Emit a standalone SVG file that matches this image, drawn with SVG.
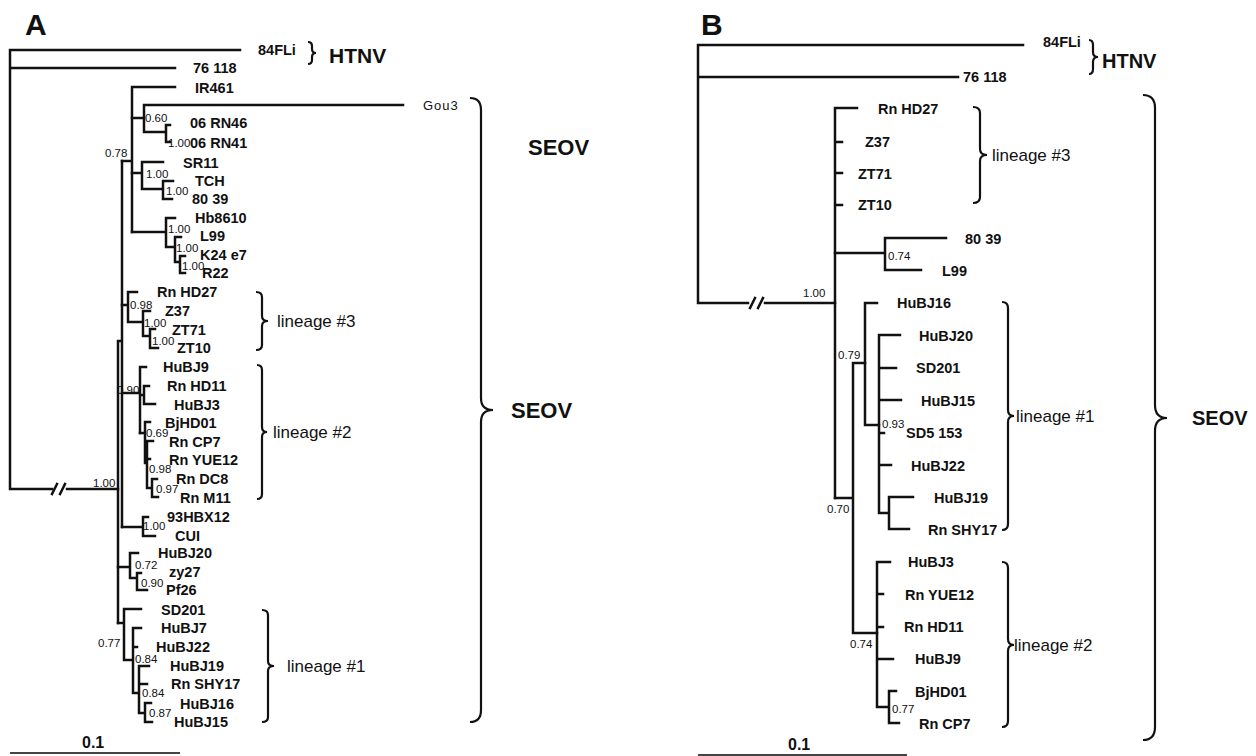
<svg xmlns="http://www.w3.org/2000/svg" width="1256" height="756" viewBox="0 0 1256 756">
<style>
.br{stroke:#111;stroke-width:2.5;fill:none;stroke-linecap:square}
.bc{stroke:#111;stroke-width:2.2;fill:none}
.tip{font-family:"Liberation Sans",Arial,sans-serif;font-size:14.5px;font-weight:bold;fill:#111}
.sup{font-family:"Liberation Sans",Arial,sans-serif;font-size:11.5px;fill:#111}
.lin{font-family:"Liberation Sans",Arial,sans-serif;font-size:17px;fill:#111}
.grp{font-family:"Liberation Sans",Arial,sans-serif;font-weight:bold;fill:#111}
.pan{font-family:"Liberation Sans",Arial,sans-serif;font-weight:bold;font-size:30px;fill:#111}
.sc{stroke:#444;stroke-width:2;fill:none}
</style>
<rect width="1256" height="756" fill="#fff"/>
<text class="pan" x="25" y="35">A</text>
<text class="pan" x="701" y="35">B</text>

<g id="connectors">
<g id="branches-A">
<path class="br" d="M10,50 H240 M10,68 H175 M10,50 V489 H52 M67,489 H118"/>
<path class="br" d="M52,494 L57,484 M60,494 L65,484"/>
<path class="br" d="M118,341 V623 M118,341 H122 M122,161 V527"/>
<path class="br" d="M122,161 H132 M132,87 V232 M132,87 H175"/>
<path class="br" d="M132,118 H144 M144,105 V132 M144,105 H403 M144,132 H166 M166,125 V142 M166,125 H170 M166,142 H170"/>
<path class="br" d="M132,173 H142 M142,162 V189 M142,162 H163 M142,189 H163 M163,181 V199 M163,181 H173 M163,199 H172"/>
<path class="br" d="M132,232 H166 M166,218 V247 M166,218 H175 M166,247 H175 M175,237 V262 M175,237 H181 M175,262 H180 M180,256 V273 M180,256 H185 M180,273 H185"/>
<path class="br" d="M122,305 H128 M128,292 V322 M128,292 H137 M128,322 H143 M143,311 V336 M143,311 H150 M143,336 H150 M150,329 V348 M150,329 H155 M150,348 H158"/>
<path class="br" d="M122,393 H140 M140,367 V433 M140,367 H146 M140,395 H144 M144,386 V404 M144,386 H149 M144,404 H155"/>
<path class="br" d="M140,433 H145 M145,422 V463 M145,422 H150 M145,463 H147 M147,441 V488 M147,441 H153 M147,459 H150 M147,488 H152 M152,479 V497 M152,479 H157 M152,497 H158"/>
<path class="br" d="M122,527 H143 M143,517 V536 M143,517 H148 M143,536 H155"/>
<path class="br" d="M118,567 H130 M130,553 V578 M130,553 H138 M130,578 H137 M137,573 V590 M137,573 H141 M137,590 H147"/>
<path class="br" d="M118,623 H124 M124,609 V660 M124,609 H141 M124,660 H133 M133,628 V693 M133,628 H141 M133,647 H137 M133,693 H139 M139,666 V713 M139,666 H149 M139,684 H147 M139,713 H145 M145,703 V722 M145,703 H151 M145,722 H152"/>
</g>
<g id="branches-B">
<path class="br" d="M698,45 V303 M698,45 H1023 M698,77 H958 M698,303 H748 M765,303 H835"/>
<path class="br" d="M750,308 L755,298 M758,308 L763,298"/>
<path class="br" d="M835,108 V498 M835,108 H857 M835,142 H842 M835,173 H842 M835,205 H842"/>
<path class="br" d="M835,253 H885 M885,238 V270 M885,238 H946 M885,270 H921"/>
<path class="br" d="M835,498 H853 M853,363 V633 M853,363 H865 M853,633 H877"/>
<path class="br" d="M865,303 V425 M865,303 H877 M865,425 H879"/>
<path class="br" d="M879,335 V513 M879,335 H900 M879,368 H896 M879,400 H901 M879,433 H884 M879,465 H891 M879,513 H889 M889,497 V529 M889,497 H913 M889,529 H909"/>
<path class="br" d="M877,562 V707 M877,562 H890 M877,594 H883 M877,627 H883 M877,659 H893 M877,707 H889 M889,691 V723 M889,691 H896 M889,723 H899"/>
</g>
<g id="braces">
<path class="bc" d="M308,42 Q312,42 312,46 L312,49 Q312,53 316,53 Q312,53 312,57 L312,60 Q312,64 308,64"/>
<path class="bc" d="M256,292 Q262,292 262,297 L262,316 Q262,321 268,321 Q262,321 262,326 L262,345 Q262,350 256,350"/>
<path class="bc" d="M257,365 Q262,365 262,370 L262,427 Q262,432 267,432 Q262,432 262,437 L262,494 Q262,499 257,499"/>
<path class="bc" d="M262,610 Q268,610 268,615 L268,661 Q268,666 274,666 Q268,666 268,671 L268,717 Q268,722 262,722"/>
<path class="bc" d="M470,98 Q481,98 481,110 L481,398 Q481,410 493,410 Q481,410 481,422 L481,710 Q481,722 470,722"/>
<path class="bc" d="M1089,40 Q1093,40 1093,45 L1093,52 Q1093,57 1098,57 Q1093,57 1093,62 L1093,69 Q1093,74 1089,74"/>
<path class="bc" d="M973,107 Q980,107 980,113 L980,149 Q980,155 987,155 Q980,155 980,161 L980,197 Q980,203 973,203"/>
<path class="bc" d="M1002,302 Q1008,302 1008,308 L1008,410 Q1008,416 1014,416 Q1008,416 1008,422 L1008,524 Q1008,530 1002,530"/>
<path class="bc" d="M1002,562 Q1008,562 1008,568 L1008,639 Q1008,645 1014,645 Q1008,645 1008,651 L1008,721 Q1008,727 1002,727"/>
<path class="bc" d="M1143,95 Q1155,95 1155,108 L1155,405 Q1155,418 1167,418 Q1155,418 1155,431 L1155,727 Q1155,740 1143,740"/>
</g>
<g id="scalebars">
<path class="sc" d="M10,753 H180"/>
<path class="sc" d="M698,755 H907" stroke="#999"/>
</g>
</g>

<g id="tips-A">
<g id="A-84FLi"><text class="tip" x="258" y="55">84FLi</text></g>
<g id="A-76118"><text class="tip" x="193" y="73">76 118</text></g>
<g id="A-IR461"><text class="tip" x="195" y="93">IR461</text></g>
<g id="A-Gou3"><text class="sup" x="423" y="110" style="font-size:13px;letter-spacing:1px">Gou3</text></g>
<g id="A-06RN46"><text class="tip" x="190" y="128">06 RN46</text></g>
<g id="A-06RN41"><text class="tip" x="190" y="148">06 RN41</text></g>
<g id="A-SR11"><text class="tip" x="183" y="168">SR11</text></g>
<g id="A-TCH"><text class="tip" x="195" y="186">TCH</text></g>
<g id="A-8039"><text class="tip" x="192" y="204">80 39</text></g>
<g id="A-Hb8610"><text class="tip" x="195" y="223">Hb8610</text></g>
<g id="A-L99"><text class="tip" x="200" y="241">L99</text></g>
<g id="A-K24e7"><text class="tip" x="200" y="260">K24 e7</text></g>
<g id="A-R22"><text class="tip" x="202" y="278">R22</text></g>
<g id="A-RnHD27"><text class="tip" x="157" y="297">Rn HD27</text></g>
<g id="A-Z37"><text class="tip" x="165" y="316">Z37</text></g>
<g id="A-ZT71"><text class="tip" x="172" y="335">ZT71</text></g>
<g id="A-ZT10"><text class="tip" x="177" y="353">ZT10</text></g>
<g id="A-HuBJ9"><text class="tip" x="163" y="372">HuBJ9</text></g>
<g id="A-RnHD11"><text class="tip" x="167" y="391">Rn HD11</text></g>
<g id="A-HuBJ3"><text class="tip" x="174" y="410">HuBJ3</text></g>
<g id="A-BjHD01"><text class="tip" x="165" y="428">BjHD01</text></g>
<g id="A-RnCP7"><text class="tip" x="169" y="447">Rn CP7</text></g>
<g id="A-RnYUE12"><text class="tip" x="169" y="465">Rn YUE12</text></g>
<g id="A-RnDC8"><text class="tip" x="176" y="484">Rn DC8</text></g>
<g id="A-RnM11"><text class="tip" x="180" y="503">Rn M11</text></g>
<g id="A-93HBX12"><text class="tip" x="167" y="522">93HBX12</text></g>
<g id="A-CUI"><text class="tip" x="175" y="541">CUI</text></g>
<g id="A-HuBJ20"><text class="tip" x="158" y="558">HuBJ20</text></g>
<g id="A-zy27"><text class="tip" x="169" y="577">zy27</text></g>
<g id="A-Pf26"><text class="tip" x="166" y="595">Pf26</text></g>
<g id="A-SD201"><text class="tip" x="161" y="615">SD201</text></g>
<g id="A-HuBJ7"><text class="tip" x="161" y="633">HuBJ7</text></g>
<g id="A-HuBJ22"><text class="tip" x="156" y="652">HuBJ22</text></g>
<g id="A-HuBJ19"><text class="tip" x="170" y="671">HuBJ19</text></g>
<g id="A-RnSHY17"><text class="tip" x="171" y="689">Rn SHY17</text></g>
<g id="A-HuBJ16"><text class="tip" x="180" y="709">HuBJ16</text></g>
<g id="A-HuBJ15"><text class="tip" x="174" y="727">HuBJ15</text></g>
</g>
<g id="support-A">
<text class="sup" x="145" y="122">0.60</text>
<text class="sup" x="168" y="147">1.00</text>
<text class="sup" x="105" y="157">0.78</text>
<text class="sup" x="146" y="178">1.00</text>
<text class="sup" x="166" y="195">1.00</text>
<text class="sup" x="168" y="233">1.00</text>
<text class="sup" x="176" y="252">1.00</text>
<text class="sup" x="182" y="270">1.00</text>
<text class="sup" x="130" y="309">0.98</text>
<text class="sup" x="144" y="327">1.00</text>
<text class="sup" x="152" y="345">1.00</text>
<text class="sup" x="117" y="394">0.90</text>
<text class="sup" x="146" y="437">0.69</text>
<text class="sup" x="149" y="473">0.98</text>
<text class="sup" x="156" y="493">0.97</text>
<text class="sup" x="93" y="487">1.00</text>
<text class="sup" x="143" y="530">1.00</text>
<text class="sup" x="135" y="569">0.72</text>
<text class="sup" x="141" y="587">0.90</text>
<text class="sup" x="98" y="647">0.77</text>
<text class="sup" x="135" y="663">0.84</text>
<text class="sup" x="142" y="697">0.84</text>
<text class="sup" x="149" y="717">0.87</text>
</g>
<g id="labels-A">
<text class="grp" x="329" y="63" font-size="21">HTNV</text>
<text class="grp" x="528" y="155" font-size="22">SEOV</text>
<text class="grp" x="511" y="418" font-size="22">SEOV</text>
<text class="lin" x="277" y="327">lineage #3</text>
<text class="lin" x="273" y="438">lineage #2</text>
<text class="lin" x="287" y="672">lineage #1</text>
<text class="grp" x="82" y="748" font-size="16">0.1</text>
</g>

<g id="tips-B">
<g id="B-84FLi"><text class="tip" x="1043" y="47" font-size="12">84FLi</text></g>
<g id="B-76118"><text class="tip" x="963" y="82" font-size="12.5">76 118</text></g>
<g id="B-RnHD27"><text class="tip" x="878" y="114">Rn HD27</text></g>
<g id="B-Z37"><text class="tip" x="865" y="147">Z37</text></g>
<g id="B-ZT71"><text class="tip" x="858" y="179">ZT71</text></g>
<g id="B-ZT10"><text class="tip" x="858" y="210">ZT10</text></g>
<g id="B-8039"><text class="tip" x="965" y="244">80 39</text></g>
<g id="B-L99"><text class="tip" x="942" y="276">L99</text></g>
<g id="B-HuBJ16"><text class="tip" x="897" y="308">HuBJ16</text></g>
<g id="B-HuBJ20"><text class="tip" x="919" y="341">HuBJ20</text></g>
<g id="B-SD201"><text class="tip" x="916" y="373">SD201</text></g>
<g id="B-HuBJ15"><text class="tip" x="921" y="406">HuBJ15</text></g>
<g id="B-SD5153"><text class="tip" x="906" y="438">SD5 153</text></g>
<g id="B-HuBJ22"><text class="tip" x="911" y="471">HuBJ22</text></g>
<g id="B-HuBJ19"><text class="tip" x="934" y="503">HuBJ19</text></g>
<g id="B-RnSHY17"><text class="tip" x="928" y="535">Rn SHY17</text></g>
<g id="B-HuBJ3"><text class="tip" x="908" y="567">HuBJ3</text></g>
<g id="B-RnYUE12"><text class="tip" x="905" y="600">Rn YUE12</text></g>
<g id="B-RnHD11"><text class="tip" x="904" y="632">Rn HD11</text></g>
<g id="B-HuBJ9"><text class="tip" x="915" y="664">HuBJ9</text></g>
<g id="B-BjHD01"><text class="tip" x="915" y="697">BjHD01</text></g>
<g id="B-RnCP7"><text class="tip" x="919" y="729">Rn CP7</text></g>
</g>
<g id="support-B">
<text class="sup" x="803" y="297">1.00</text>
<text class="sup" x="888" y="260">0.74</text>
<text class="sup" x="838" y="359">0.79</text>
<text class="sup" x="882" y="428">0.93</text>
<text class="sup" x="827" y="513">0.70</text>
<text class="sup" x="850" y="648">0.74</text>
<text class="sup" x="892" y="713">0.77</text>
</g>
<g id="labels-B">
<text class="grp" x="1102" y="68" font-size="20">HTNV</text>
<text class="grp" x="1192" y="425" font-size="20">SEOV</text>
<text class="lin" x="992" y="161">lineage #3</text>
<text class="lin" x="1016" y="422">lineage #1</text>
<text class="lin" x="1014" y="651">lineage #2</text>
<text class="grp" x="788" y="750" font-size="16">0.1</text>
</g>
</svg>
